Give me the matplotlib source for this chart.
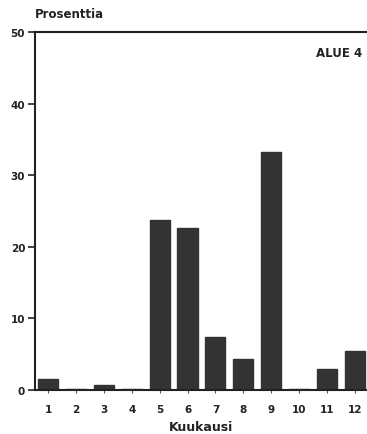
import matplotlib
matplotlib.use("Agg")
import matplotlib.pyplot as plt

plt.rcParams["font.family"] = ["DejaVu Sans"]

# Monthly share (%) for region 4
months = [1, 2, 3, 4, 5, 6, 7, 8, 9, 10, 11, 12]
month_labels = ["1", "2", "3", "4", "5", "6", "7", "8", "9", "10", "11", "12"]
share = [1.6, 0.1, 0.7, 0.2, 23.7, 22.6, 7.4, 4.3, 33.3, 0.2, 2.9, 5.4]
y_ticks = [0, 10, 20, 30, 40, 50]

bar_color = "#333333"
ink = "#222222"
fig = plt.figure(figsize=(3.67, 4.35), dpi=100)
ax = fig.add_axes([0.095, 0.101, 0.905, 0.823])

ax.bar(months, share, width=0.72, color=bar_color, edgecolor=bar_color)

ax.set_xlim(0.53, 12.43)
ax.set_ylim(0, 50)
ax.set_xticks(months)
ax.set_xticklabels(month_labels, fontsize=7.5, fontweight="bold", color=ink)
ax.set_yticks(y_ticks)
ax.set_yticklabels([str(v) for v in y_ticks], fontsize=7.5, fontweight="bold", color=ink)
ax.tick_params(axis="y", direction="out", length=5, width=1.2, color=ink, pad=2)
ax.tick_params(axis="x", direction="out", length=2, width=0.8, color="#555555", pad=8)

for side in ("left", "bottom", "top"):
    ax.spines[side].set_linewidth(1.5)
    ax.spines[side].set_color(ink)
ax.spines["right"].set_visible(False)

fig.text(0.095, 0.967, "Prosenttia", fontsize=8.5, fontweight="bold", color=ink,
         ha="left", va="center")
ax.text(0.985, 0.944, "ALUE 4", transform=ax.transAxes, fontsize=8.5, fontweight="bold",
        color=ink, ha="right", va="center")
ax.set_xlabel("Kuukausi", fontsize=9, fontweight="bold", color=ink, labelpad=4)

fig.savefig("out.png", dpi=100)
